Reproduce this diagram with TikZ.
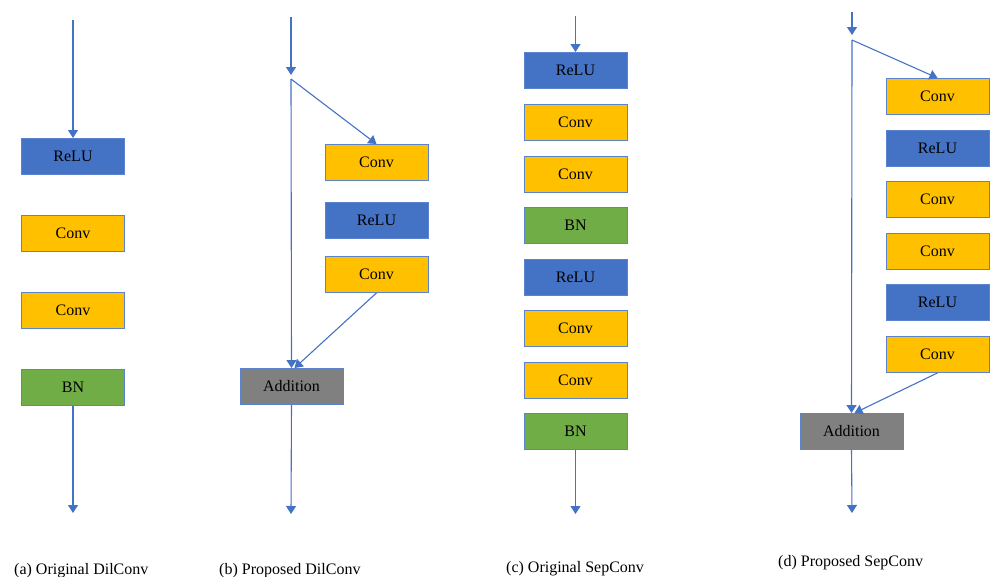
\documentclass[tikz,border=0pt]{standalone}
\usepackage{fontspec}
\setmainfont{Liberation Serif}
\usetikzlibrary{arrows.meta}
\definecolor{cblue}{HTML}{4472C4}
\definecolor{corange}{HTML}{FFC000}
\definecolor{cgreen}{HTML}{70AD47}
\definecolor{cgray}{HTML}{808080}
\definecolor{cborder}{HTML}{5B83CF}
\begin{document}
\begin{tikzpicture}[x=1pt,y=-1pt,
  blk/.style={draw=cborder, line width=0.9pt, minimum width=103pt, minimum height=36pt, inner sep=0pt, font=\fontsize{16}{19}\selectfont, anchor=north},
  relu/.style={blk, fill=cblue},
  conv/.style={blk, fill=corange},
  bn/.style={blk, fill=cgreen},
  addb/.style={blk, fill=cgray},
  arr/.style={draw=cblue, line width=1.1pt, -{Triangle[length=8pt,width=10pt]}},
  captxt/.style={anchor=base west, inner sep=0pt, font=\fontsize{16}{19}\selectfont}]
\useasboundingbox (0,0) rectangle (990,576);

% (a)
\coordinate (ain) at (73,20);
\node[relu] (a1) at (73,138) {ReLU};
\node[conv] (a2) at (73,215) {Conv};
\node[conv] (a3) at (73,292) {Conv};
\node[bn]   (a4) at (73,369) {BN};
\coordinate (aout) at (73,513);
\draw[arr] (ain) -- (a1.north);
\draw[arr] (a4.south) -- (aout);
\node[captxt] (capa) at (14,574) {(a) Original DilConv};

% (b)
\coordinate (bin) at (291,17);
\coordinate (btip) at (291,75);
\coordinate (bsplit) at (291,79);
\node[conv] (b1) at (376.5,144) {Conv};
\node[relu] (b2) at (376.5,202) {ReLU};
\node[conv] (b3) at (376.5,256) {Conv};
\node[addb] (badd) at (291.5,368) {Addition};
\coordinate (bout) at (291,514);
\draw[arr] (bin) -- (btip);
\draw[arr] (bsplit) -- (b1.north);
\draw[arr] (bsplit) -- (badd.north);
\draw[arr] (b3.south) -- ([xshift=3pt]badd.north);
\draw[arr] (badd.south) -- (bout);
\node[captxt] (capb) at (219,574) {(b) Proposed DilConv};

% (c)
\coordinate (cin) at (575.5,16);
\node[relu] (c1) at (575.5,52) {ReLU};
\node[conv] (c2) at (575.5,104) {Conv};
\node[conv] (c3) at (575.5,156) {Conv};
\node[bn]   (c4) at (575.5,207) {BN};
\node[relu] (c5) at (575.5,259) {ReLU};
\node[conv] (c6) at (575.5,310) {Conv};
\node[conv] (c7) at (575.5,362) {Conv};
\node[bn]   (c8) at (575.5,413) {BN};
\coordinate (cout) at (575.5,514);
\draw[arr] (cin) -- (c1.north);
\draw[arr] (c8.south) -- (cout);
\node[captxt] (capc) at (506,572) {(c) Original SepConv};

% (d)
\coordinate (din) at (852,12);
\coordinate (dtip) at (852,35);
\coordinate (dsplit) at (852,40);
\node[conv] (d1) at (937.5,78) {Conv};
\node[relu] (d2) at (937.5,130) {ReLU};
\node[conv] (d3) at (937.5,181) {Conv};
\node[conv] (d4) at (937.5,233) {Conv};
\node[relu] (d5) at (937.5,284) {ReLU};
\node[conv] (d6) at (937.5,336) {Conv};
\node[addb] (dadd) at (851.5,413) {Addition};
\coordinate (dout) at (852,513);
\draw[arr] (din) -- (dtip);
\draw[arr] (dsplit) -- (d1.north);
\draw[arr] (dsplit) -- (dadd.north);
\draw[arr] (d6.south) -- ([xshift=3pt]dadd.north);
\draw[arr] (dadd.south) -- (dout);
\node[captxt] (capd) at (778,566) {(d) Proposed SepConv};
\end{tikzpicture}
\end{document}
